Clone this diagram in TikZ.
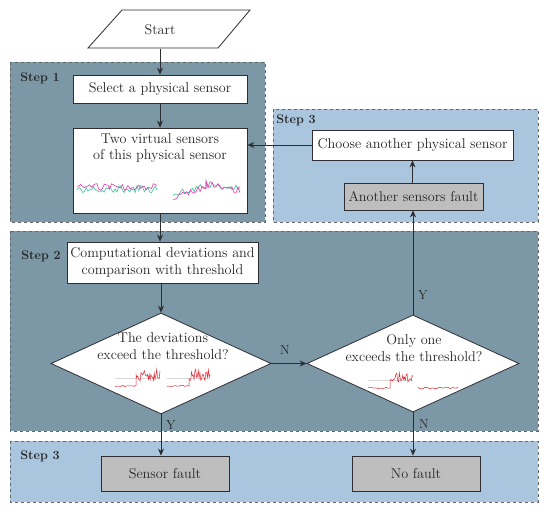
\documentclass[tikz,border=0pt]{standalone}
\usepackage{tikz}
\usetikzlibrary{shapes.geometric,arrows.meta}
\definecolor{regdark}{RGB}{124,152,166}
\definecolor{reglight}{RGB}{170,198,222}
\definecolor{boxgray}{RGB}{190,190,190}
\definecolor{linec}{RGB}{45,45,50}
\definecolor{sigpink}{RGB}{225,60,170}
\definecolor{sigteal}{RGB}{60,190,160}
\definecolor{sigred}{RGB}{225,40,50}
\begin{document}
\begin{tikzpicture}[x=1pt,y=-1pt,
  every node/.style={font=\fontsize{14.2}{16.5}\selectfont, text=black!85},
  region/.style={draw=black!60, dashed, line width=0.6pt},
  stepl/.style={font=\bfseries\fontsize{12.5}{14}\selectfont, text=black!85},
  whitebox/.style={draw=linec, fill=white, line width=0.8pt, inner sep=0pt},
  graybox/.style={draw=linec, fill=boxgray, line width=0.8pt, inner sep=0pt},
  dia/.style={draw=linec, fill=white, diamond, inner sep=0pt, line width=0.8pt},
  conn/.style={draw=linec, line width=0.8pt},
  arr/.style={conn, -{Stealth[length=7pt,width=6pt]}},
  yn/.style={font=\fontsize{13}{15}\selectfont, text=black!85}]
\useasboundingbox (0,0) rectangle (550,512);
% regions
\draw[region, fill=regdark] (10,62) rectangle (265,222);
\draw[region, fill=reglight] (273,109) rectangle (538,222);
\draw[region, fill=regdark] (10,231) rectangle (538,431);
\draw[region, fill=reglight] (10,441) rectangle (538,502);
\node[stepl] (s1) at (40,78) {Step 1};
\node[stepl] (s3a) at (296,120) {Step 3};
\node[stepl] (s2) at (41,256) {Step 2};
\node[stepl] (s3b) at (40,456) {Step 3};
% start
\draw[conn, fill=white] (88,48) -- (122,10) -- (250,10) -- (218,48) -- cycle;
\node[inner sep=0pt, minimum height=38pt, minimum width=2pt] (start) at (160,29.5) {Start};
% boxes
\node[whitebox, minimum width=174pt, minimum height=28pt] (select) at (160,89) {Select a physical sensor};
\node[whitebox, minimum width=174pt, minimum height=85pt] (virtual) at (160,170.5) {};
\node[align=center, inner sep=0pt] (vtext) at (160,148) {Two virtual sensors\\of this physical sensor};
\node[whitebox, minimum width=201pt, minimum height=30pt] (choose) at (412.5,145) {Choose another physical sensor};
\node[graybox, minimum width=139pt, minimum height=27pt] (another) at (413.5,196.5) {Another sensors fault};
\node[whitebox, minimum width=191pt, minimum height=41pt, align=center] (comp) at (162.5,262.5) {Computational deviations and\\comparison with threshold};
\node[dia, minimum width=220pt, minimum height=101pt] (d1) at (161,363.5) {};
\node[align=center, inner sep=0pt] (d1t) at (163,346) {The deviations\\exceed the threshold?};
\node[dia, minimum width=212pt, minimum height=97pt] (d2) at (413,363.5) {};
\node[align=center, inner sep=0pt] (d2t) at (414,348) {Only one\\exceeds the threshold?};
\node[graybox, minimum width=128pt, minimum height=35pt] (sfault) at (165,473.5) {Sensor fault};
\node[graybox, minimum width=128pt, minimum height=35pt] (nofault) at (416,473.5) {No fault};
% signals in virtual box
\pgfmathsetseed{7}
\draw[sigteal, line width=0.6pt] plot[domain=77:157, samples=45] (\x,{189+3.5*rand});
\draw[sigpink, line width=0.6pt] plot[domain=77:157, samples=45] (\x,{187+3.5*rand});
\draw[sigteal, line width=0.6pt] plot[domain=173:206, samples=18] (\x,{193-0.2*(\x-173)+3*rand}) -- plot[domain=206:240, samples=18] (\x,{185+0.1*(\x-206)+3*rand});
\draw[sigpink, line width=0.6pt] plot[domain=173:206, samples=18] (\x,{197-0.3*(\x-173)+3*rand}) -- plot[domain=206:240, samples=18] (\x,{184+0.2*(\x-206)+3.5*rand});
% signals in diamonds
\draw[black!15, line width=0.4pt] (115,378) -- (160,378) (167,378) -- (210,378) (368,380) -- (413,380);
\draw[sigred, line width=0.5pt] plot[domain=115:136, samples=12] (\x,{386+0.7*rand}) -- plot[domain=136:160, samples=30] (\x,{375+6*rand});
\draw[sigred, line width=0.5pt] plot[domain=167:189, samples=12] (\x,{386+0.7*rand}) -- plot[domain=189:210, samples=26] (\x,{375+6*rand});
\draw[sigred, line width=0.5pt] plot[domain=368:390, samples=12] (\x,{388+0.7*rand}) -- plot[domain=390:413, samples=28] (\x,{378+6*rand});
\draw[sigred, line width=0.5pt] plot[domain=418:458, samples=25] (\x,{388+0.8*rand});
% connectors
\draw[arr] (start.south) -- (select.north);
\draw[arr] (select.south) -- (virtual.north);
\draw[arr] (virtual.south) -- (comp.north -| virtual.south);
\draw[arr] (comp.south -| d1.north) -- (d1.north);
\draw[arr] (choose.west) -- (choose.west -| virtual.east);
\draw[arr] (another.north -| choose.south) -- (choose.south);
\draw[arr] (d2.north) -- (d2.north |- another.south);
\draw[arr] (d1.east) -- (d2.west);
\draw[arr] (d1.south) -- (d1.south |- sfault.north);
\draw[arr] (d2.south) -- (d2.south |- nofault.north);
\node[yn] (ln) at (285,350) {N};
\node[yn] (ly1) at (171,425) {Y};
\node[yn] (ly2) at (423,295) {Y};
\node[yn] (ln2) at (424,424) {N};
\end{tikzpicture}
\end{document}
